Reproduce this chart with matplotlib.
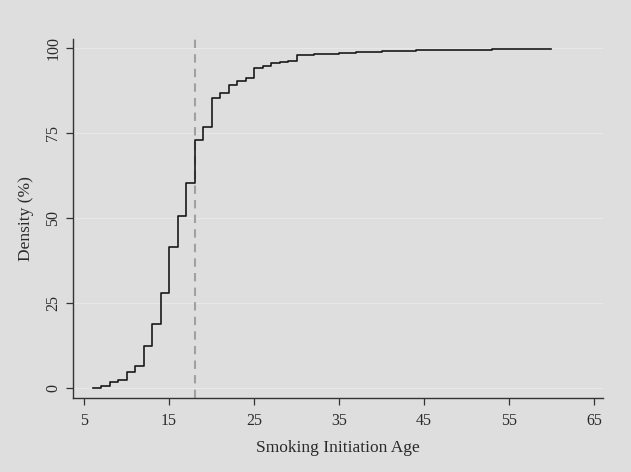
import matplotlib
matplotlib.use('Agg')
import matplotlib.pyplot as plt

# cumulative share of smokers by initiation age
ages = list(range(6, 61))
cum = [0.1, 0.7, 1.7, 2.4, 4.8, 6.4, 12.3, 18.7, 28.0, 41.5,
       50.6, 60.4, 72.8, 76.7, 85.4, 86.9, 89.0, 90.4, 91.3, 94.0,
       94.8, 95.5, 95.9, 96.2, 97.9, 98.0, 98.1, 98.2, 98.3, 98.5,
       98.6, 98.7, 98.8, 98.95, 99.1, 99.15, 99.2, 99.25, 99.3, 99.4,
       99.42, 99.44, 99.46, 99.48, 99.5, 99.52, 99.54, 99.56, 99.58, 99.6,
       99.62, 99.65, 99.68, 99.7, 99.75]
xticks = [5, 15, 25, 35, 45, 55, 65]
yticks = [0, 25, 50, 75, 100]
cutoff = 18

bg = '#dedede'
plt.rcParams['font.family'] = ['Liberation Serif', 'DejaVu Serif']

fig = plt.figure(figsize=(6.31, 4.72), dpi=100, facecolor=bg)
ax = fig.add_axes([0.1157, 0.1568, 0.8399, 0.7606], facecolor=bg)

for y in yticks:
    ax.axhline(y, color='#e8e8e8', lw=0.8, zorder=0)

ax.plot(ages, cum, drawstyle='steps-post', color='#1a1a1a', lw=1.2, zorder=3)
ax.axvline(cutoff, color='#a0a0a0', lw=1.5, ls=(0, (4, 3)), zorder=2)

ax.set_xlim(3.7, 66.06)
ax.set_ylim(-2.94, 102.65)
ax.set_xticks(xticks)
ax.set_yticks(yticks)
ax.tick_params(axis='y', labelrotation=90)
for lab in ax.get_yticklabels():
    lab.set_va('center')
ax.tick_params(colors='#333333', labelcolor='#2a2a2a', labelsize=11.5, length=5, width=0.9)
ax.tick_params(axis='x', pad=6)

for s in ['top', 'right']:
    ax.spines[s].set_visible(False)
for s in ['left', 'bottom']:
    ax.spines[s].set_color('#333333')
    ax.spines[s].set_linewidth(1.0)

ax.set_xlabel('Smoking Initiation Age', fontsize=12.5, color='#2a2a2a', labelpad=8)
ax.set_ylabel('Density (%)', fontsize=12.5, color='#2a2a2a', labelpad=8)

plt.savefig('out.png', dpi=100, facecolor=bg)
